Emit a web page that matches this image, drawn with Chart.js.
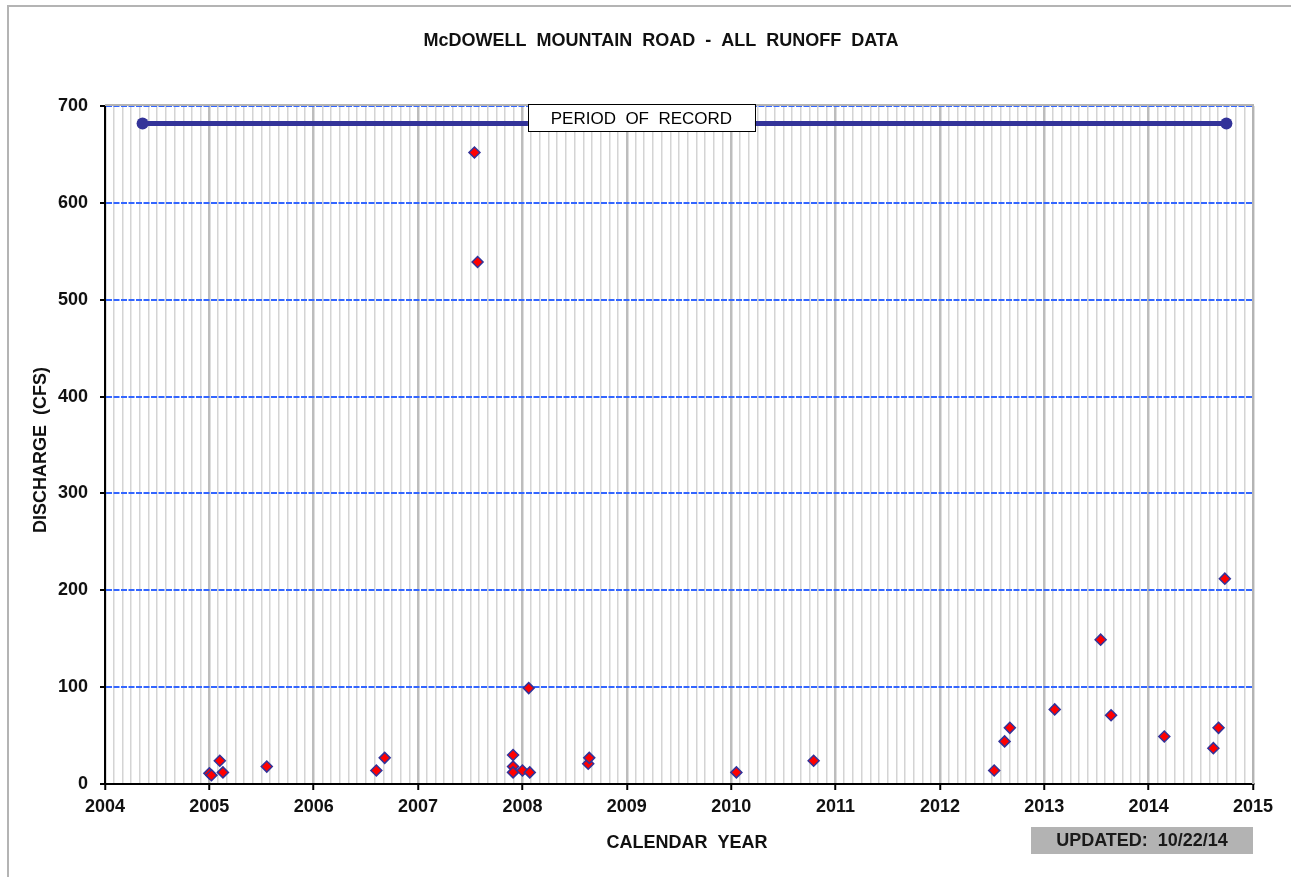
<!DOCTYPE html>
<html>
<head>
<meta charset="utf-8">
<script src="https://cdn.jsdelivr.net/npm/chart.js@4"></script>
<style>
html,body{margin:0;padding:0;background:#fff;}
#wrap{position:relative;width:1291px;height:877px;}
</style>
</head>
<body>
<div id="wrap"><canvas id="c" width="1291" height="877"></canvas></div>
<script>
// ---- data ----
const chartTitle = "McDOWELL  MOUNTAIN  ROAD  -  ALL  RUNOFF  DATA";
const xTitle = "CALENDAR  YEAR";
const yTitle = "DISCHARGE  (CFS)";
const recordLabel = "PERIOD  OF  RECORD";
const updatedLabel = "UPDATED:  10/22/14";

// decimal calendar year of each runoff event
const eventYears = [2005.00, 2005.02, 2005.10, 2005.13, 2005.55, 2006.60, 2006.68,
  2007.54, 2007.57, 2007.91, 2007.91, 2007.91, 2008.00, 2008.06, 2008.07,
  2008.63, 2008.64, 2010.05, 2010.79, 2012.52, 2012.62, 2012.67, 2013.10,
  2013.54, 2013.64, 2014.15, 2014.62, 2014.67, 2014.73];
// peak discharge (cfs)
const eventDischarge = [11, 9, 24, 12, 18, 14, 27,
  652, 539, 30, 18, 12, 14, 99, 12,
  21, 27, 12, 24, 14, 44, 58, 77,
  149, 71, 49, 37, 58, 212];

const recordYears = [2004.36, 2014.745];
const recordLevel = [682, 682];
const recordLabelYear = 2009.14;

const yearTicks = [2004, 2005, 2006, 2007, 2008, 2009, 2010, 2011, 2012, 2013, 2014, 2015];
const dischargeTicks = [0, 100, 200, 300, 400, 500, 600, 700];

// ---- chart ----
const FONT = "'Liberation Sans', Arial, sans-serif";
const isMajor = v => Math.abs(v - Math.round(v)) < 1e-6;

const framePlugin = {
  id: 'frame',
  beforeDraw(chart) {
    const ctx = chart.ctx;
    ctx.save();
    ctx.fillStyle = '#ffffff';
    ctx.fillRect(0, 0, chart.width, chart.height);
    ctx.strokeStyle = '#b4b4b4';
    ctx.lineWidth = 2;
    ctx.strokeRect(8, 6, 1300, 900);
    ctx.fillStyle = '#111';
    ctx.textAlign = 'center';
    ctx.textBaseline = 'middle';
    ctx.font = "bold 18px " + FONT;
    // chart title
    ctx.fillText(chartTitle, 661, 41);
    // axis titles
    ctx.fillText(xTitle, 687, 843);
    ctx.save();
    ctx.translate(41, 450);
    ctx.rotate(-Math.PI / 2);
    ctx.fillText(yTitle, 0, 0);
    ctx.restore();
    ctx.restore();
  },
  beforeDatasetsDraw(chart) {
    const {ctx, chartArea: a} = chart;
    ctx.save();
    ctx.strokeStyle = '#b4b4b4';
    ctx.lineWidth = 2;
    ctx.beginPath();
    ctx.moveTo(a.left, a.top - 1);
    ctx.lineTo(a.right, a.top - 1);
    ctx.lineTo(a.right, a.bottom);
    ctx.stroke();
    ctx.restore();
  },
  afterDatasetsDraw(chart) {
    const {ctx, scales} = chart;
    const x = scales.x, y = scales.y;
    ctx.save();
    // period of record label box
    const cx = x.getPixelForValue(recordLabelYear);
    const cy = y.getPixelForValue(recordLevel[0]) - 5.5;
    const bw = 227, bh = 27;
    ctx.fillStyle = '#ffffff';
    ctx.fillRect(cx - bw / 2, cy - bh / 2, bw, bh);
    ctx.strokeStyle = '#000000';
    ctx.lineWidth = 1;
    ctx.strokeRect(Math.round(cx - bw / 2) + 0.5, Math.round(cy - bh / 2) + 0.5, bw, bh);
    ctx.fillStyle = '#000000';
    ctx.font = "17px " + FONT;
    ctx.textAlign = 'center';
    ctx.textBaseline = 'middle';
    ctx.fillText(recordLabel, cx, cy + 1);
    // updated box
    ctx.fillStyle = '#b3b3b3';
    ctx.fillRect(1031, 827, 222, 27);
    ctx.fillStyle = '#1a1a1a';
    ctx.font = "bold 18px " + FONT;
    ctx.fillText(updatedLabel, 1142, 841);
    ctx.restore();
  }
};

new Chart(document.getElementById('c'), {
  type: 'scatter',
  data: {
    datasets: [
      {
        label: 'Runoff',
        data: eventYears.map((yr, i) => ({x: yr, y: eventDischarge[i]})),
        pointStyle: 'rectRot',
        pointRadius: 5.5,
        pointBackgroundColor: '#ff0000',
        pointBorderColor: '#333399',
        pointBorderWidth: 1.5,
        showLine: false
      },
      {
        label: 'Period of record',
        data: recordYears.map((yr, i) => ({x: yr, y: recordLevel[i]})),
        showLine: true,
        borderColor: '#333399',
        borderWidth: 5,
        pointRadius: 6,
        pointBackgroundColor: '#333399',
        pointBorderColor: '#333399',
        pointBorderWidth: 0
      }
    ]
  },
  options: {
    responsive: false,
    animation: false,
    events: [],
    layout: {padding: {left: 0, right: 38, top: 106, bottom: 0}},
    plugins: {
      legend: {display: false},
      tooltip: {enabled: false},
      title: {display: false}
    },
    scales: {
      x: {
        type: 'linear',
        min: yearTicks[0],
        max: yearTicks[yearTicks.length - 1],
        afterFit(s) { s.height = 93; },
        ticks: {
          stepSize: 1 / 12,
          autoSkip: false,
          maxRotation: 0,
          padding: 6.5,
          color: '#111',
          font: {family: FONT, size: 18, weight: 'bold'},
          callback: v => isMajor(v) ? String(Math.round(v)) : ''
        },
        grid: {
          color: c => isMajor(c.tick.value) ? '#bdbdbd' : '#d4d4d4',
          lineWidth: c => isMajor(c.tick.value) ? 2.5 : 1.5,
          tickColor: c => isMajor(c.tick.value) ? '#000' : 'rgba(0,0,0,0)',
          tickLength: 6,
          tickWidth: 2
        },
        border: {color: '#000', width: 2},
        title: {display: false}
      },
      y: {
        min: dischargeTicks[0],
        max: dischargeTicks[dischargeTicks.length - 1],
        afterFit(s) { s.width = 105; },
        afterBuildTicks(s) { s.ticks = dischargeTicks.map(v => ({value: v})); },
        ticks: {
          padding: 12,
          color: '#111',
          font: {family: FONT, size: 18, weight: 'bold'}
        },
        grid: {
          color: c => c.tick && c.tick.value === 0 ? 'rgba(0,0,0,0)' : '#3366ff',
          lineWidth: 2,
          tickColor: '#000',
          tickLength: 5,
          tickWidth: 2
        },
        border: {color: '#000', width: 2, dash: [6, 1.5]},
        title: {display: false}
      }
    }
  },
  plugins: [framePlugin]
});
</script>
</body>
</html>
